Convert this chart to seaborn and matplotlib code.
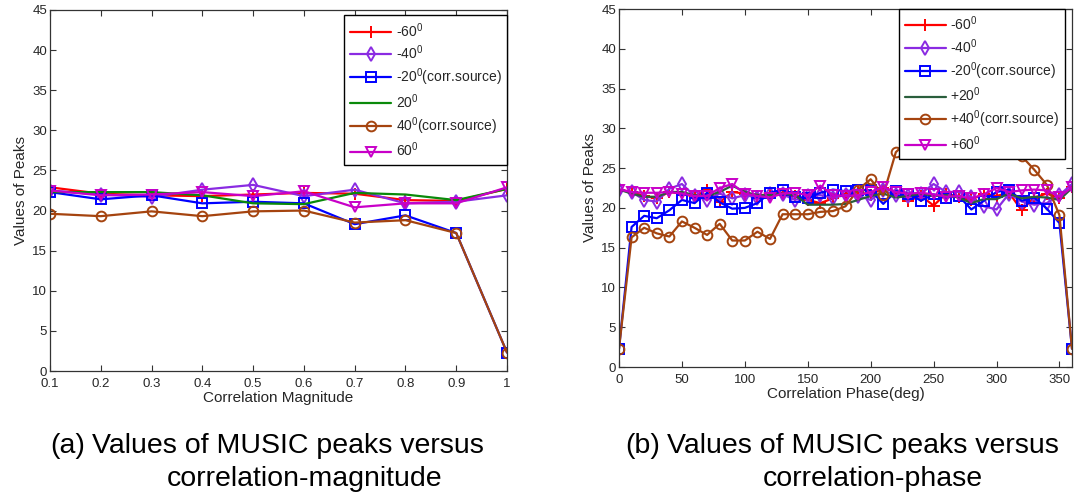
import numpy as np
import pandas as pd
import matplotlib
matplotlib.use("Agg")
import matplotlib.pyplot as plt
import seaborn as sns

# ---------------- data ----------------
magnitude = [0.1, 0.2, 0.3, 0.4, 0.5, 0.6, 0.7, 0.8, 0.9, 1.0]
mag_m60 = [22.9, 22.1, 21.9, 21.8, 22.0, 22.2, 22.1, 21.3, 21.2, 22.7]
mag_m40 = [22.5, 22.0, 21.7, 22.6, 23.2, 21.8, 22.6, 20.9, 21.1, 21.9]
mag_m20 = [22.3, 21.4, 21.9, 20.9, 21.1, 20.9, 18.3, 19.4, 17.2, 2.3]
mag_p20 = [22.3, 22.3, 22.3, 21.9, 20.9, 20.8, 22.2, 22.0, 21.3, 22.7]
mag_p40 = [19.6, 19.3, 19.9, 19.3, 19.9, 20.0, 18.5, 18.8, 17.2, 2.3]
mag_p60 = [22.5, 21.9, 22.0, 22.3, 21.8, 22.4, 20.4, 20.9, 20.9, 22.9]

phase = [0, 10, 20, 30, 40, 50, 60, 70, 80, 90,
         100, 110, 120, 130, 140, 150, 160, 170, 180, 190,
         200, 210, 220, 230, 240, 250, 260, 270, 280, 290,
         300, 310, 320, 330, 340, 350, 360]
ph_m60 = [22.3, 22.0, 21.5, 21.2, 22.0, 21.8, 21.4, 22.3, 20.7, 22.0,
          21.8, 21.5, 21.8, 21.9, 21.5, 21.0, 20.6, 21.2, 21.8, 22.0,
          21.6, 22.5, 22.0, 20.9, 21.5, 20.3, 21.8, 21.4, 21.0, 21.8,
          21.5, 21.9, 19.7, 21.3, 21.8, 21.2, 22.6]
ph_m40 = [22.3, 22.0, 21.0, 20.8, 22.4, 23.0, 21.5, 21.0, 21.8, 21.2,
          21.6, 21.3, 21.8, 21.7, 21.0, 21.5, 21.6, 21.3, 21.6, 21.5,
          21.0, 22.2, 21.6, 21.5, 21.8, 23.0, 22.0, 22.0, 21.4, 20.2,
          19.8, 21.8, 20.8, 20.4, 20.6, 21.6, 23.0]
ph_m20 = [2.3, 17.6, 19.0, 18.7, 19.7, 21.0, 20.6, 21.9, 20.7, 19.9,
          20.0, 20.6, 21.9, 22.3, 21.4, 21.2, 21.9, 22.3, 22.1, 22.3,
          22.2, 20.5, 22.1, 21.8, 20.9, 21.7, 21.3, 21.5, 19.8, 20.9,
          22.0, 22.3, 20.9, 21.3, 19.9, 18.1, 2.3]
ph_p20 = [22.3, 21.8, 21.4, 21.4, 22.0, 22.0, 21.6, 21.5, 22.0, 22.8,
          22.0, 21.6, 21.6, 21.8, 21.6, 20.4, 20.4, 20.4, 20.5, 21.0,
          21.5, 21.8, 21.3, 21.5, 21.8, 21.5, 21.6, 21.3, 20.6, 21.1,
          21.1, 21.8, 21.2, 21.4, 21.3, 21.0, 22.5]
ph_p40 = [2.3, 16.3, 17.5, 16.8, 16.4, 18.3, 17.5, 16.6, 18.0, 15.9,
          15.9, 17.0, 16.1, 19.2, 19.2, 19.2, 19.5, 19.6, 20.2, 22.3,
          23.6, 21.6, 27.0, 28.5, 29.5, 30.0, 30.2, 30.0, 29.6, 29.0,
          28.5, 27.8, 26.5, 24.8, 22.9, 19.1, 2.3]
ph_p60 = [22.3, 22.0, 21.9, 21.9, 22.0, 21.8, 21.5, 21.5, 22.5, 23.0,
          21.8, 21.5, 21.3, 21.8, 21.9, 21.6, 22.8, 21.6, 21.5, 21.6,
          22.0, 22.6, 22.0, 21.8, 21.9, 21.7, 21.4, 21.5, 21.2, 21.7,
          22.5, 22.0, 22.2, 22.3, 22.2, 21.4, 22.6]

labels_a = ["-60$^0$", "-40$^0$", "-20$^0$(corr.source)", "20$^0$",
            "40$^0$(corr.source)", "60$^0$"]
labels_b = ["-60$^0$", "-40$^0$", "-20$^0$(corr.source)", "+20$^0$",
            "+40$^0$(corr.source)", "+60$^0$"]
yticks = [0, 5, 10, 15, 20, 25, 30, 35, 40, 45]
xticks_a = [0.1, 0.2, 0.3, 0.4, 0.5, 0.6, 0.7, 0.8, 0.9, 1]
xticklabels_a = ["0.1", "0.2", "0.3", "0.4", "0.5", "0.6", "0.7", "0.8", "0.9", "1"]
xticks_b = [0, 50, 100, 150, 200, 250, 300, 350]

# ---------------- style ----------------
sns.set_style("ticks")
plt.rcParams["font.family"] = ["Liberation Sans", "DejaVu Sans"]
plt.rcParams["mathtext.default"] = "regular"

colors_a = ["#ff0000", "#8a2be2", "#0000ff", "#0a8a0a", "#a5440f", "#c800c8"]
colors_b = ["#ff0000", "#8a2be2", "#0000ff", "#2a5e3c", "#a5440f", "#c800c8"]
markers = ["+", "d", "s", None, "o", "v"]

fig = plt.figure(figsize=(10.75, 5.0), dpi=100)
ax1 = fig.add_axes([50 / 1075, 1 - 371 / 500, 457 / 1075, 361 / 500])
ax2 = fig.add_axes([619 / 1075, 1 - 367 / 500, 453 / 1075, 358 / 500])


def draw(ax, x, series, labels, colors):
    for y, lab, c, m in zip(series, labels, colors, markers):
        df = pd.DataFrame({"x": x, "y": y})
        kw = dict(marker=m, markersize=7, markerfacecolor="none",
                  markeredgecolor=c, markeredgewidth=1.4) if m else {}
        if m == "+":
            kw["markersize"] = 8.5
        sns.lineplot(data=df, x="x", y="y", ax=ax, color=c, linewidth=1.6,
                     label=lab, **kw)


draw(ax1, magnitude, [mag_m60, mag_m40, mag_m20, mag_p20, mag_p40, mag_p60],
     labels_a, colors_a)
draw(ax2, phase, [ph_m60, ph_m40, ph_m20, ph_p20, ph_p40, ph_p60],
     labels_b, colors_b)

for ax in (ax1, ax2):
    ax.set_ylim(0, 45)
    ax.set_yticks(yticks)
    ax.set_ylabel("Values of Peaks", fontsize=11, color="#262626", labelpad=3)
    ax.tick_params(direction="in", top=True, right=True, length=4,
                   width=0.8, labelsize=9.5, colors="#333333", pad=2,
                   labelcolor="#262626")
    ax.tick_params(axis="x", pad=5)
    for s in ax.spines.values():
        s.set_color("#333333")
        s.set_linewidth(0.9)
    ax.grid(False)

ax1.set_xlim(0.1, 1.0)
ax1.set_xticks(xticks_a)
ax1.set_xticklabels(xticklabels_a)
ax1.set_xlabel("Correlation Magnitude", fontsize=11, color="#262626", labelpad=1)
ax2.set_xlim(0, 360)
ax2.set_xticks(xticks_b)
ax2.set_xlabel("Correlation Phase(deg)", fontsize=11, color="#262626", labelpad=1)

leg_kw = dict(fontsize=10, frameon=True, fancybox=False, framealpha=1,
              edgecolor="#000000", handlelength=3.0, handletextpad=0.3,
              labelspacing=0.3, borderpad=0.4, borderaxespad=0.0)
lg1 = ax1.legend(loc="upper right", bbox_to_anchor=(1.0, 0.985), **leg_kw)
lg2 = ax2.legend(loc="upper right", bbox_to_anchor=(0.985, 1.0), **leg_kw)
for lg in (lg1, lg2):
    lg.get_frame().set_linewidth(1.0)
    lg.set_zorder(10)

cap = dict(fontsize=20.5, color="black", va="center", ha="left")
fig.text(50 / 1075, 1 - 446 / 500, "(a)", **cap)
fig.text(92 / 1075, 1 - 446 / 500, "Values of MUSIC peaks versus", **cap)
fig.text(167 / 1075, 1 - 479 / 500, "correlation-magnitude", **cap)
fig.text(625 / 1075, 1 - 446 / 500, "(b)", **cap)
fig.text(667 / 1075, 1 - 446 / 500, "Values of MUSIC peaks versus", **cap)
fig.text(763 / 1075, 1 - 479 / 500, "correlation-phase", **cap)

fig.savefig("out.png", dpi=100)
